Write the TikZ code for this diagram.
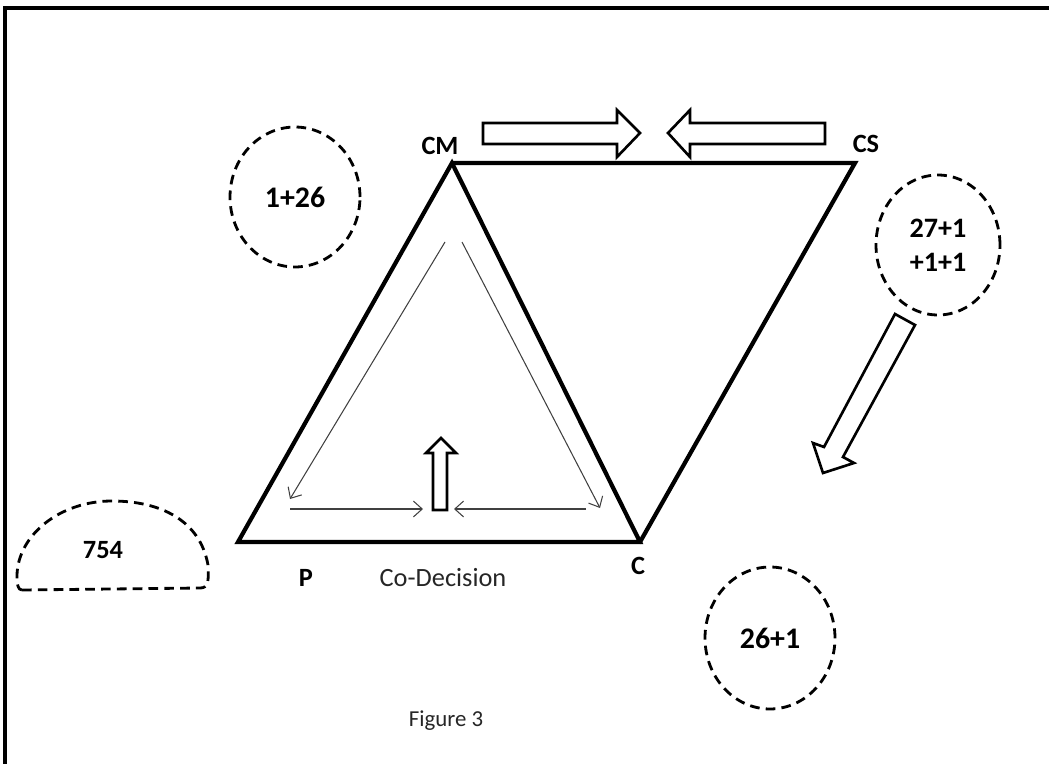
\documentclass[tikz,border=0pt]{standalone}
\usepackage{fontspec}
\setmainfont{Carlito}
\usetikzlibrary{shapes.geometric,arrows.meta}
\begin{document}
\begin{tikzpicture}[x=0.02cm,y=-0.02cm,
  thickline/.style={line width=2.4pt, line cap=round, line join=miter},
  dcirc/.style={ellipse, draw, line width=1.6pt, dash pattern=on 5.5pt off 3.5pt, inner sep=0pt, font=\bfseries\fontsize{17}{19.5}\selectfont, align=center},
  lbl/.style={font=\bfseries\fontsize{15}{18}\selectfont, inner sep=0pt},
  txt/.style={font=\fontsize{15}{18}\selectfont, inner sep=0pt, text=black!85},
  blockarrow/.style={draw, line width=1.5pt, line join=miter, fill=white},
  thinarrow/.style={line width=0.6pt, draw=black!75, -{Straight Barb[length=5pt,width=9pt]}},
]
\useasboundingbox (0,0) rectangle (1049,764);
% frame
\draw[line width=1.8pt] (5,764) -- (5,8) -- (1049,8);

% vertices
\coordinate (CMv) at (452,163);
\coordinate (CSv) at (855,163);
\coordinate (Pv) at (238,542);
\coordinate (Cv) at (640,542);
\draw[thickline] (Pv) -- (CMv) -- (Cv) -- cycle;
\draw[thickline] (CMv) -- (CSv) -- (Cv);

% labels
\node[lbl] (CM) at (440,146) {CM};
\node[lbl] (CS) at (866,144) {CS};
\node[lbl] (P) at (306,578) {P};
\node[txt] (CoD) at (443,578) {Co-Decision};
\node[lbl] (C) at (638,566) {C};
\node[txt, font=\fontsize{13}{16}\selectfont] (fig) at (446,721) {Figure 3};

% dashed circles
\node[dcirc, minimum width=2.6cm, minimum height=2.8cm] (c1) at (295,197) {1+26};
\node[dcirc, minimum width=2.48cm, minimum height=2.8cm, font=\bfseries\fontsize{16}{19.5}\selectfont] (c2) at (938,245) {27+1\\+1+1};
\node[dcirc, minimum width=2.6cm, minimum height=2.84cm] (c3) at (770,638) {26+1};

% 754 half dome
\draw[line width=1.6pt, dash pattern=on 5.5pt off 3.5pt, line join=round]
  (22,590) -- (200,588) .. controls (208,588) and (209,582) .. (208,565)
  .. controls (200,520) and (160,501) .. (112,501)
  .. controls (60,501) and (18,535) .. (17,575)
  .. controls (17,585) and (18,590) .. (22,590);
\node[lbl] (n754) at (103,550) {754};

% top block arrows
\draw[blockarrow] (483,123) -- (617,123) -- (617,110) -- (640,133) -- (617,157) -- (617,144) -- (483,144) -- cycle;
\draw[blockarrow] (825,123) -- (690,123) -- (690,110) -- (668,133) -- (690,157) -- (690,144) -- (825,144) -- cycle;

% small up arrow
\draw[blockarrow] (433,510) -- (433,453) -- (426,453) -- (441,438) -- (456,453) -- (447,453) -- (447,510) -- cycle;

% down-left block arrow
\draw[blockarrow] (895,314) -- (915,325) -- (843,457) -- (854,463) -- (823,473) -- (813,443) -- (824,447) -- cycle;

% thin arrows
\coordinate (la0) at (445,242);
\coordinate (la1) at (290,499);
\coordinate (ra0) at (462,242);
\coordinate (ra1) at (600,508);
\coordinate (ha0) at (290,509);
\coordinate (ha1) at (423,509);
\coordinate (hb0) at (586,509);
\coordinate (hb1) at (454,509);
\draw[thinarrow] (la0) -- (la1);
\draw[thinarrow] (ra0) -- (ra1);
\draw[thinarrow] (ha0) -- (ha1);
\draw[thinarrow] (hb0) -- (hb1);
\end{tikzpicture}
\end{document}
